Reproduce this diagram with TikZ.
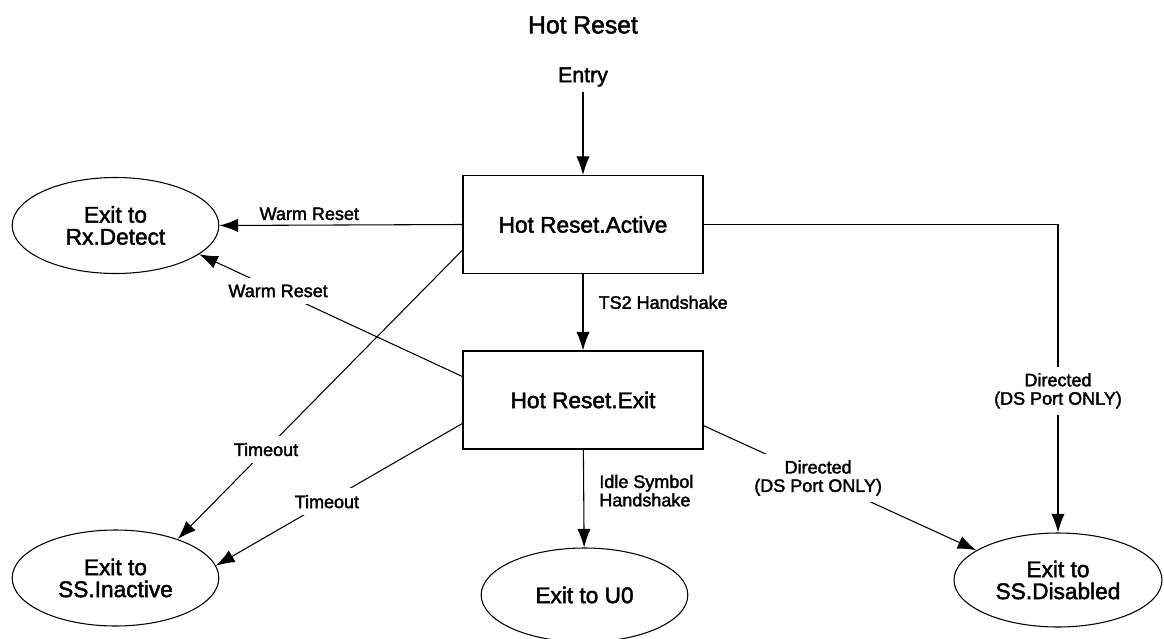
\documentclass[tikz,border=0pt]{standalone}
\usepackage{fontspec}
\setmainfont{Liberation Sans}[FakeBold=2]
\usetikzlibrary{shapes.geometric, arrows.meta}

\begin{document}
\begin{tikzpicture}[x=0.75pt, y=-0.75pt, line width=0.8pt,
        statebox/.style={draw, rectangle, minimum width=180pt, minimum height=73.5pt, inner sep=0pt, font=\fontsize{17}{17}\selectfont},
        exitoval/.style={draw, ellipse, minimum width=155pt, minimum height=72pt, inner sep=0pt, align=center, font=\fontsize{17}{16.5}\selectfont},
        trlabel/.style={font=\fontsize{13.5}{13.8}\selectfont, align=center},
        gaplabel/.style={trlabel, fill=white, inner sep=5pt},
        arr/.style={-{Latex[length=14pt, width=10pt]}}]
                \useasboundingbox (0,0) rectangle (1164,639);
                \node[font=\fontsize{18.5}{18.5}\selectfont] (title) at (583,25) {Hot Reset};
                \node[font=\fontsize{16}{16}\selectfont] (entry) at (583,77) {Entry};
                \node[statebox] (active) at (583,224.5) {Hot Reset.Active};
                \node[statebox] (hrexit) at (583,400) {Hot Reset.Exit};
                \node[exitoval] (rxdetect) at (115.5,225.5) {Exit to\\Rx.Detect};
                \node[exitoval] (ssinactive) at (115.5,578) {Exit to\\SS.Inactive};
                \node[exitoval, minimum height=70.5pt] (uzero) at (584.5,595) {Exit to U0};
                \node[exitoval, minimum width=156pt, minimum height=70.5pt] (ssdisabled) at (1058,580) {Exit to\\SS.Disabled};
                \draw[arr] (entry) -- (active);
                \draw[arr] (active.west) -- (rxdetect.east) node[trlabel, above, pos=0.63] {Warm Reset};
                \draw[arr] (hrexit.169) -- (rxdetect.341) node[gaplabel, pos=0.7] {Warm Reset};
                \draw[arr] (active.192) -- (ssinactive.32) node[gaplabel, pos=0.69] {Timeout};
                \draw[arr] (hrexit.191) -- (ssinactive.7) node[gaplabel, pos=0.55] {Timeout};
                \draw[arr] (active) -- (hrexit) node[trlabel, right=8pt, pos=0.37] {TS2 Handshake};
                \draw[arr] (hrexit) -- (uzero) node[trlabel, align=left, right=8pt, pos=0.42] {Idle Symbol\\Handshake};
                \draw[arr] (hrexit.348) -- (ssdisabled.160) node[gaplabel, pos=0.42] {Directed\\(DS Port ONLY)};
                \draw[arr] (active.east) -| (ssdisabled.north) node[gaplabel, pos=0.77] {Directed\\(DS Port ONLY)};
            \end{tikzpicture}
\end{document}
